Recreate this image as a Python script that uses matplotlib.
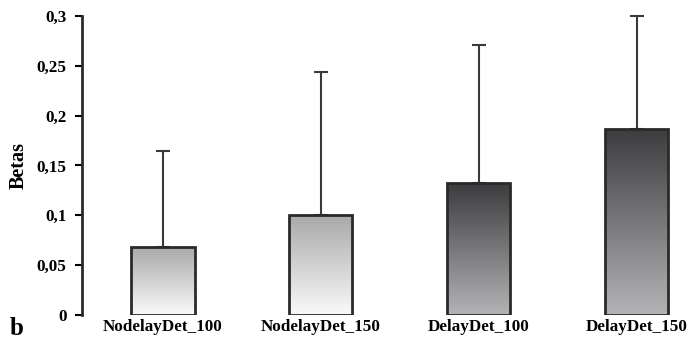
import numpy as np
import matplotlib.pyplot as plt
from matplotlib.ticker import FuncFormatter

categories = ["NodelayDet_100", "NodelayDet_150", "DelayDet_100", "DelayDet_150"]
betas = [0.068, 0.100, 0.132, 0.187]
err_top = [0.165, 0.244, 0.271, 0.300]
dark = [False, False, True, True]

plt.rcParams['font.family'] = ['Liberation Serif', 'DejaVu Serif']
plt.rcParams['font.weight'] = 'bold'

fig = plt.figure(figsize=(6.92, 3.41), dpi=100)
ax = fig.add_axes([0.1185, 0.0762, 0.87, 0.877])

x = np.arange(len(categories))
w = 0.4
grad = np.linspace(0, 1, 256).reshape(-1, 1)

for i in range(len(categories)):
    bar = ax.bar(x[i], betas[i], width=w, color='none', edgecolor='#2a2a2a',
                 linewidth=2, zorder=3)[0]
    if dark[i]:
        cmap = plt.matplotlib.colors.LinearSegmentedColormap.from_list('d', ['#b4b4b6', '#3c3c3e'])
    else:
        cmap = plt.matplotlib.colors.LinearSegmentedColormap.from_list('l', ['#fafafa', '#a9a9ab'])
    im = ax.imshow(grad, cmap=cmap, origin='lower', aspect='auto',
                   extent=[x[i] - w / 2, x[i] + w / 2, 0, betas[i]], zorder=2)
    im.set_clip_path(bar)
    ax.errorbar(x[i], betas[i], yerr=[[0], [err_top[i] - betas[i]]], fmt='none',
                ecolor='#3a3a3a', elinewidth=1.5, capsize=5, capthick=1.5,
                zorder=1, clip_on=False)

ax.set_xlim(-0.513, 3.3)
ax.set_ylim(0, 0.3)
ax.set_yticks([0, 0.05, 0.1, 0.15, 0.2, 0.25, 0.3])
ax.yaxis.set_major_formatter(FuncFormatter(lambda v, p: ('%g' % v).replace('.', ',')))
ax.set_xticks(x)
ax.set_xticklabels(categories, fontsize=12.3, fontweight='bold')
ax.tick_params(axis='x', length=0, pad=3)
ax.tick_params(axis='y', length=5, width=1.5, labelsize=12.3, direction='out', pad=6)
for s in ['top', 'right', 'bottom']:
    ax.spines[s].set_visible(False)
ax.spines['left'].set_linewidth(2)
ax.spines['left'].set_color('#2a2a2a')
ax.set_ylabel("Betas", fontsize=14.5, fontweight='bold', labelpad=6)

fig.text(0.014, 0.003, "b", fontsize=18, fontweight='bold', ha='left', va='bottom')

fig.savefig("out.png", dpi=100)
